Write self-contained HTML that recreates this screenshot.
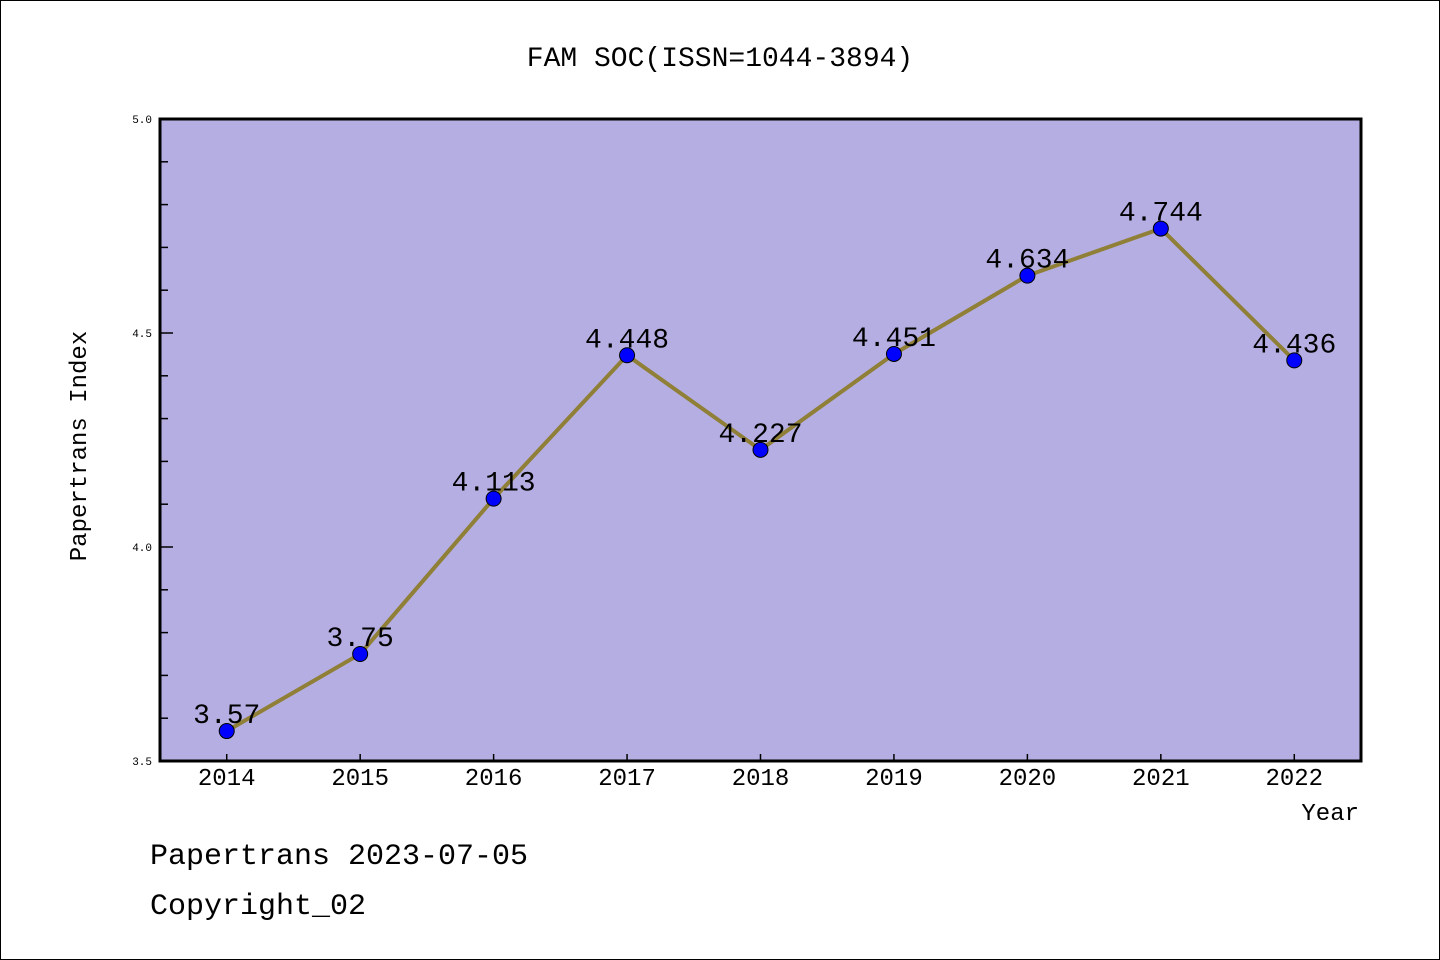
<!DOCTYPE html>
<html><head><meta charset="utf-8"><style>
html,body{margin:0;padding:0;background:#fff}
svg{display:block}
text{font-family:"Liberation Mono","Noto Sans CJK SC",monospace}
</style></head><body>
<svg id="chart" width="1440" height="960">
<rect x="0.5" y="0.5" width="1439" height="959" fill="#fff" stroke="#000"/>
<text x="720" y="66" font-size="28" text-anchor="middle">FAM SOC(ISSN=1044-3894)</text>
<rect x="160" y="119" width="1201" height="642" fill="#b5aee2"/>
<g id="ticks"></g>
<g id="series"></g>
<rect x="160" y="119" width="1201" height="642" fill="none" stroke="#000" stroke-width="3"/>
<text x="86" y="446" font-size="24" text-anchor="middle" transform="rotate(-90 86 446)">Papertrans Index</text>
<text x="1359" y="820" font-size="24" text-anchor="end">Year</text>
<text x="150" y="864" font-size="30">Papertrans 2023-07-05</text>
<text x="150" y="914" font-size="30">Copyright_02</text>
</svg>
<script>
const years = [2014,2015,2016,2017,2018,2019,2020,2021,2022];
const values = [3.57,3.75,4.113,4.448,4.227,4.451,4.634,4.744,4.436];
const labels = ["3.57","3.75","4.113","4.448","4.227","4.451","4.634","4.744","4.436"];
const yTicks = ["3.5","4.0","4.5","5.0"];
const NS="http://www.w3.org/2000/svg";
const X0=160,X1=1361,Y0=761,Y1=119,ymin=3.5,ymax=5.0;
const xs=v=>X0+(v-(years[0]-0.5))/(years.length)*(X1-X0);
const ys=v=>Y0-(v-ymin)/(ymax-ymin)*(Y0-Y1);
function mk(tag,attrs,parent){const e=document.createElementNS(NS,tag);for(const k in attrs)e.setAttribute(k,attrs[k]);parent.appendChild(e);return e;}
const tg=document.getElementById('ticks'), sg=document.getElementById('series');
for(let i=0;i<=15;i++){const v=ymin+i*0.1;const y=ys(v);const major=i%5===0;
 const l=mk('line',{x1:X0,x2:X0+(major?13:8),y1:y,y2:y,stroke:'#000','stroke-width':1.5},tg);
 
 }
yTicks.forEach(t=>{const v=parseFloat(t);const e=mk('text',{x:X0-8,y:ys(v)+4,'font-size':11,'text-anchor':'end'},tg);e.textContent=t;
 
 });
years.forEach(yr=>{const x=xs(yr);
 const l=mk('line',{x1:x,x2:x,y1:Y0,y2:Y0-7,stroke:'#000','stroke-width':1.5},tg);
 
 
 const t=mk('text',{x:x,y:785,'font-size':24,'text-anchor':'middle'},tg);t.textContent=yr;
 
 });
const pts=years.map((yr,i)=>xs(yr)+','+ys(values[i])).join(' ');
const pl=mk('polyline',{points:pts,fill:'none',stroke:'#8f7f37','stroke-width':4},sg);


years.forEach((yr,i)=>{
 const c=mk('circle',{cx:xs(yr),cy:ys(values[i]),r:7.5,fill:'#0000ff',stroke:'#000','stroke-width':1},sg);
 
 
 const t=mk('text',{x:xs(yr),y:ys(values[i])-8,'font-size':28,'text-anchor':'middle'},sg);t.textContent=labels[i];
 
 });
</script>
</body></html>
